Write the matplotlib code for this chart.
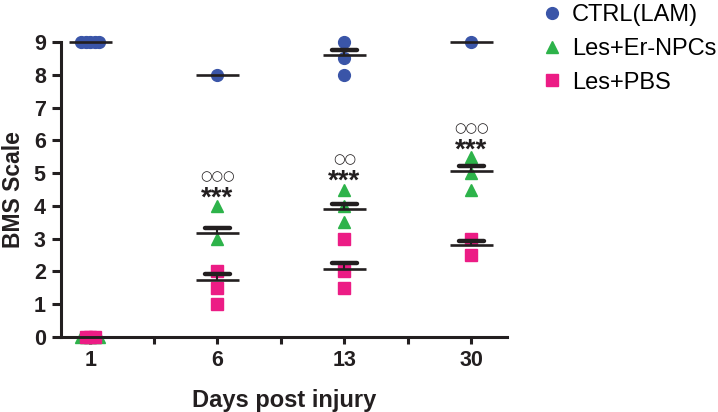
import matplotlib.pyplot as plt
import numpy as np

plt.rcParams['font.family'] = ['Liberation Sans', 'DejaVu Sans']

# Data
days = ['1', '6', '13', '30']
groups = ['CTRL(LAM)', 'Les+Er-NPCs', 'Les+PBS']
colors = ['#3a55a8', '#2db34a', '#ec1c85']
markers = ['o', '^', 's']

ctrl_pts = [[9, 9, 9, 9, 9], [8], [9, 8.5, 8], [9]]
er_pts = [[0, 0, 0, 0, 0], [4, 3], [4.5, 4, 3.5], [5.5, 5, 4.5]]
pbs_pts = [[0, 0, 0], [2, 1.5, 1], [3, 2, 1.5], [3, 2.5]]

ctrl_mean = [9, 8, 8.6, 9]
ctrl_sem = [0, 0, 0.15, 0]
er_mean = [0, 3.17, 3.92, 5.07]
er_sem = [0, 0.16, 0.15, 0.15]
pbs_mean = [0, 1.74, 2.08, 2.8]
pbs_sem = [0, 0.17, 0.17, 0.13]

# significance marks above the Les+Er-NPCs column
stars = ['', '***', '***', '***']
stars_y = [0, 4.0, 4.52, 5.46]
circles = ['', '○○○', '○○', '○○○']
circles_y = [0, 4.9, 5.4, 6.37]

all_pts = [ctrl_pts, er_pts, pbs_pts]
all_mean = [ctrl_mean, er_mean, pbs_mean]
all_sem = [ctrl_sem, er_sem, pbs_sem]

ink = '#231f20'

fig = plt.figure(figsize=(7.18, 4.12), dpi=100)
ax = fig.add_axes([0.085, 0.182, 0.621, 0.716])

x = np.arange(len(days))
step = 0.035

for pts, col, mk, lab in zip(all_pts, colors, markers, groups):
    first = True
    for i, vals in enumerate(pts):
        # spread repeated values sideways, like a column scatter
        for v in sorted(set(vals)):
            n = vals.count(v)
            offs = (np.arange(n) - (n - 1) / 2) * step
            ax.plot(x[i] + offs, [v] * n, linestyle='none', marker=mk,
                    markersize=8.5, color=col, clip_on=False, zorder=3,
                    label=lab if first else None)
            first = False

for means, sems in zip(all_mean, all_sem):
    for i in range(len(days)):
        m, s = means[i], sems[i]
        ax.plot([x[i] - 0.17, x[i] + 0.17], [m, m], color=ink, lw=1.9,
                solid_capstyle='butt', clip_on=False, zorder=4)
        if s > 0:
            ax.plot([x[i], x[i]], [m, m + s], color=ink, lw=1.5, zorder=4)
            ax.plot([x[i] - 0.1, x[i] + 0.1], [m + s, m + s], color=ink,
                    lw=3.2, solid_capstyle='round', zorder=4)

for i in range(len(days)):
    if stars[i]:
        ax.text(x[i], stars_y[i], stars[i], ha='center', va='baseline',
                fontsize=20, fontweight='bold', color=ink)
        ax.text(x[i], circles_y[i], circles[i], ha='center', va='center',
                fontsize=9.5, fontweight='bold', color=ink,
                family=['DejaVu Sans'])

ax.set_xlim(-0.23, 3.28)
ax.set_ylim(0, 9)
ax.set_xticks(x)
ax.set_xticklabels(days)
ax.set_xticks([0.5, 1.5, 2.5], minor=True)
ax.set_yticks(range(10))

for side in ['top', 'right']:
    ax.spines[side].set_visible(False)
for side in ['left', 'bottom']:
    ax.spines[side].set_linewidth(2.2)
    ax.spines[side].set_color(ink)

ax.tick_params(axis='both', which='both', width=2.2, color=ink,
               labelcolor=ink, labelsize=15.5, pad=4.5)
ax.tick_params(axis='y', length=6.5)
ax.tick_params(axis='x', which='both', length=5)
for lbl in ax.get_xticklabels() + ax.get_yticklabels():
    lbl.set_fontweight('bold')

ax.set_xlabel('Days post injury', fontsize=17, fontweight='bold',
              color=ink, labelpad=13)
ax.set_ylabel('BMS Scale', fontsize=16.5, fontweight='bold',
              color=ink, labelpad=6)

ax.legend(loc='upper left', bbox_to_anchor=(0.752, 0.99),
          bbox_transform=fig.transFigure, frameon=False, fontsize=17,
          handlelength=1.0, handletextpad=0.36, labelspacing=0.5,
          borderpad=0, borderaxespad=0, markerscale=1.0)

fig.savefig('out.png', dpi=100)
